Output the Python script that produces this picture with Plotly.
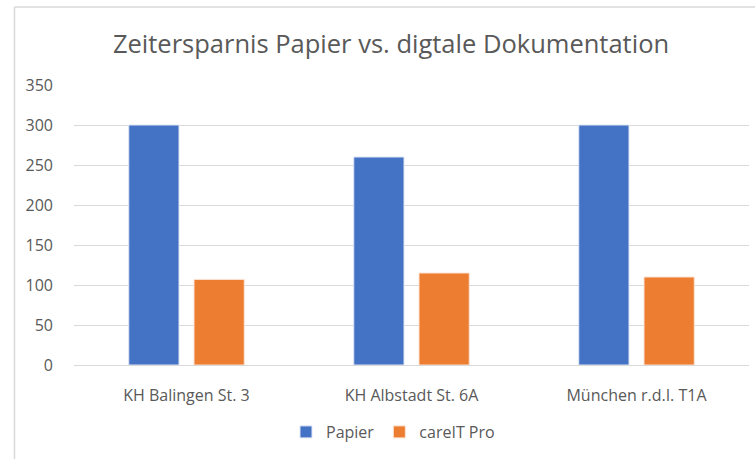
import plotly.graph_objects as go

categories = ["KH Balingen St. 3", "KH Albstadt St. 6A", "München r.d.I. T1A"]
papier = [300, 260, 300]
careit = [107, 115, 110]
series_names = ["Papier", "careIT Pro"]
tick_vals = [0, 50, 100, 150, 200, 250, 300, 350]

W, H = 755, 459
L, R, T, B = 74, 6, 85, 94
pw, ph = W - L - R, H - T - B

fig = go.Figure()
fig.add_trace(go.Bar(x=categories, y=papier, name=series_names[0],
                     marker=dict(color="#4472C4", line=dict(color="#dfe6f3", width=1))))
fig.add_trace(go.Bar(x=categories, y=careit, name=series_names[1],
                     marker=dict(color="#ED7D31", line=dict(color="#fbe3d3", width=1))))

fig.update_layout(
    width=W, height=H,
    margin=dict(l=L, r=R, t=T, b=B, pad=0, autoexpand=False),
    paper_bgcolor="white", plot_bgcolor="white",
    barmode="group", bargap=0.42, bargroupgap=0.23,
    title=dict(text="Zeitersparnis Papier vs. digtale Dokumentation",
               x=391 / W, xref="container", xanchor="center",
               y=1 - 44 / H, yanchor="middle", yref="container",
               font=dict(family="Open Sans, sans-serif", size=25.5, color="#595959")),
    font=dict(family="Open Sans, sans-serif", size=16, color="#595959"),
    showlegend=True,
    legend=dict(orientation="h", x=(393 - L) / pw, xanchor="center",
                y=-(432 - (H - B)) / ph, yanchor="middle",
                font=dict(size=16, color="#595959"),
                itemwidth=30, tracegroupgap=0),
    shapes=[
        dict(type="line", xref="paper", yref="paper",
             x0=(14.5 - L) / pw, x1=(14.5 - L) / pw, y0=1 + (T - 7) / ph, y1=-(B + 5) / ph,
             line=dict(color="#d9d9d9", width=1.5)),
        dict(type="line", xref="paper", yref="paper",
             x0=(14.5 - L) / pw, x1=(W + 5 - L) / pw, y0=1 + (T - 7) / ph, y1=1 + (T - 7) / ph,
             line=dict(color="#d9d9d9", width=1.5)),
    ],
)
fig.update_yaxes(range=[0, 350], tickvals=tick_vals, showgrid=True, gridcolor="#d9d9d9",
                 gridwidth=1, zeroline=False, showline=False, ticks="", automargin=False,
                 ticklabelstandoff=20, tickfont=dict(size=16, color="#595959"))
fig.update_xaxes(showline=True, linecolor="#d9d9d9", linewidth=1, ticks="", automargin=False,
                 ticklabelstandoff=16, tickfont=dict(size=16, color="#595959"))

fig.write_html("out.html", config={"displayModeBar": False},
               post_script="document.body.style.margin='0';")
